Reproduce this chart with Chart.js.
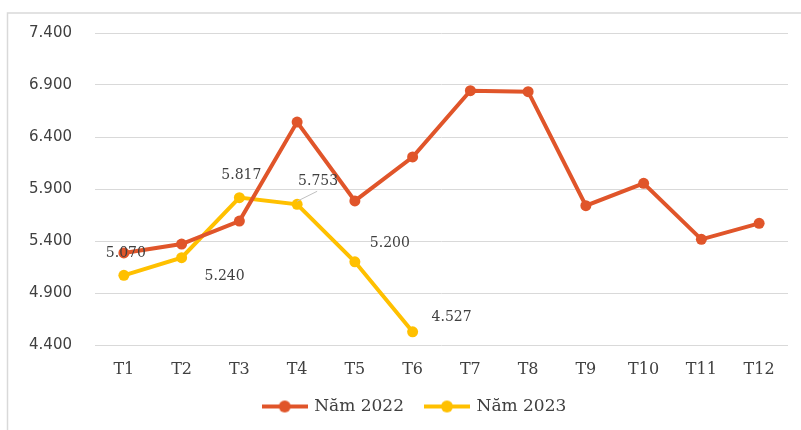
<!DOCTYPE html>
<html><head><meta charset="utf-8">
<script src="https://cdn.jsdelivr.net/npm/chart.js@4"></script>
<style>html,body{margin:0;padding:0;background:#fff;overflow:hidden}</style>
</head><body>
<canvas id="c" width="801" height="430" style="display:block;width:801px;height:430px"></canvas>
<script>
const categories = ['T1','T2','T3','T4','T5','T6','T7','T8','T9','T10','T11','T12'];
const values2022 = [5285, 5371, 5592, 6544, 5785, 6208, 6845, 6836, 5740, 5955, 5416, 5570];
const values2023 = [5070, 5240, 5817, 5753, 5200, 4527];
const yTicks = [4400, 4900, 5400, 5900, 6400, 6900, 7400];
const seriesNames = ['Năm 2022', 'Năm 2023'];

const colors = ['#E0552A', '#FFC000'];
// label offsets (px) for the 2023 data labels, relative to the point
const labelOffsets = [[2,-22],[43,19],[2,-22],[21,-23],[35,-18],[39,-14]];

function fmt(v){ return Math.round(v).toString().replace(/\B(?=(\d{3})+(?!\d))/g, '.'); }

function makeIcon(color){
  const c = document.createElement('canvas');
  c.width = 46; c.height = 14;
  const g = c.getContext('2d');
  g.strokeStyle = color; g.lineWidth = 4; g.lineCap = 'butt';
  g.beginPath(); g.moveTo(0,7); g.lineTo(46,7); g.stroke();
  g.fillStyle = color; g.beginPath(); g.arc(23,7,6,0,Math.PI*2); g.fill();
  return c;
}
const icons = colors.map(makeIcon);

const framePlugin = {
  id: 'frame',
  beforeDraw(chart){
    const ctx = chart.ctx;
    ctx.save();
    ctx.strokeStyle = '#d9d9d9'; ctx.lineWidth = 1.5;
    ctx.beginPath(); ctx.moveTo(7.5, 430); ctx.lineTo(7.5, 13); ctx.lineTo(801, 13); ctx.stroke();
    ctx.restore();
  }
};

const legendShift = {
  id: 'legendShift',
  afterLayout(chart){
    const lg = chart.legend;
    if (!lg) return;
    const h = lg.height;
    lg.top = 376; lg.bottom = 376 + h;
    lg.left += 21; lg.right += 21;
  }
};

const labelPlugin = {
  id: 'dlabels',
  afterDatasetsDraw(chart){
    const ctx = chart.ctx;
    const meta = chart.getDatasetMeta(1);
    ctx.save();
    ctx.font = '14px "DejaVu Serif"';
    ctx.fillStyle = '#404040';
    ctx.textAlign = 'center';
    ctx.textBaseline = 'middle';
    meta.data.forEach((el, i) => {
      const off = labelOffsets[i] || [0,-20];
      if (i === 3) {
        ctx.strokeStyle = '#bfbfbf'; ctx.lineWidth = 1;
        ctx.beginPath(); ctx.moveTo(el.x, el.y - 3); ctx.lineTo(el.x + 20, el.y - 13); ctx.stroke();
      }
      ctx.fillText(fmt(values2023[i]), el.x + off[0], el.y + off[1]);
    });
    ctx.restore();
  }
};

new Chart(document.getElementById('c'), {
  type: 'line',
  data: {
    labels: categories,
    datasets: [
      { label: seriesNames[0], data: values2022, borderColor: colors[0], backgroundColor: colors[0],
        borderWidth: 4, pointRadius: 5.5, pointHoverRadius: 5.5, pointBackgroundColor: colors[0], pointBorderWidth: 0, tension: 0 },
      { label: seriesNames[1], data: values2023, borderColor: colors[1], backgroundColor: colors[1],
        borderWidth: 4, pointRadius: 5.5, pointHoverRadius: 5.5, pointBackgroundColor: colors[1], pointBorderWidth: 0, tension: 0 }
    ]
  },
  options: {
    responsive: false,
    animation: false,
    devicePixelRatio: 1,
    layout: { padding: { top: 33, right: 13, bottom: 0, left: 0 } },
    scales: {
      x: {
        offset: true,
        grid: { display: false },
        border: { display: false },
        ticks: { color: '#404040', font: { family: 'DejaVu Serif', size: 16 }, padding: 7, maxRotation: 0 },
        afterFit(s){ s.height = 40; }
      },
      y: {
        min: 4400, max: 7400,
        grid: { color: '#d9d9d9', lineWidth: 1, drawTicks: false },
        border: { display: false },
        ticks: { color: '#404040', font: { family: 'DejaVu Sans', size: 15 }, padding: 23, callback: v => fmt(v) },
        afterBuildTicks(s){ s.ticks = yTicks.map(v => ({ value: v })); },
        afterFit(s){ s.width = 95; }
      }
    },
    plugins: {
      tooltip: { enabled: false },
      legend: {
        position: 'bottom',
        maxHeight: 45,
        labels: {
          usePointStyle: true,
          pointStyleWidth: 42,
          padding: 22,
          color: '#404040',
          font: { family: 'DejaVu Serif', size: 17 },
          generateLabels(chart){
            const items = Chart.defaults.plugins.legend.labels.generateLabels(chart);
            items.forEach((it, i) => { it.pointStyle = icons[i]; });
            return items;
          }
        }
      }
    }
  },
  plugins: [framePlugin, legendShift, labelPlugin]
});
</script>
</body></html>
